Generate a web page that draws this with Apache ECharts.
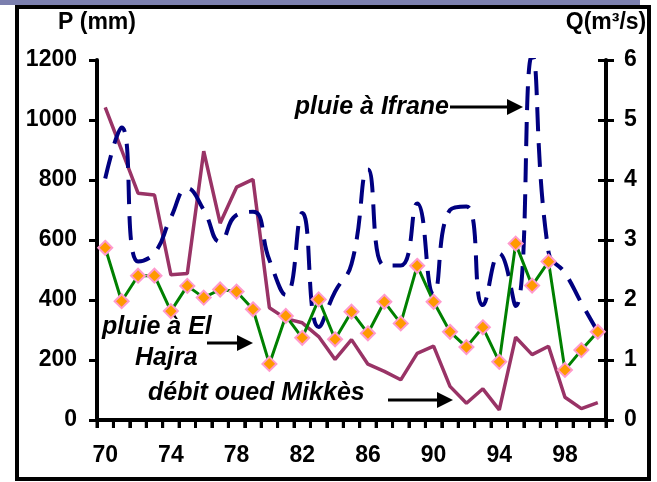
<!DOCTYPE html>
<html>
<head>
<meta charset="utf-8">
<script src="https://cdn.jsdelivr.net/npm/echarts@6/dist/echarts.min.js"></script>
<style>
  html, body { margin: 0; padding: 0; background: #fff; }
  #chart { width: 657px; height: 482px; }
</style>
</head>
<body>
<div id="chart"></div>
<script>
// years 1970 - 2000
var years = ['70','71','72','73','74','75','76','77','78','79','80','81','82','83','84','85',
  '86','87','88','89','90','91','92','93','94','95','96','97','98','99','00']
// pluie a Ifrane (mm)
var ifrane = [805, 975, 528, 556, 675, 772, 700, 594, 683, 694, 533, 417, 690, 310, 428, 520,
  835, 515, 515, 722, 420, 700, 712, 383, 555, 380, 1215, 560, 490, 390, 294]
// pluie a El Hajra (mm)
var elHajra = [574, 396, 481, 481, 363, 447, 408, 435, 428, 369, 187, 347, 274, 402, 269, 361,
  289, 394, 322, 514, 394, 294, 243, 309, 194, 588, 448, 528, 167, 233, 294]
// debit oued Mikkes (m3/s)
var mikkes = [5.21, 4.5, 3.78, 3.75, 2.42, 2.44, 4.48, 3.28, 3.88, 4.01, 1.87, 1.69, 1.62, 1.39, 1.01, 1.34,
  0.93, 0.81, 0.67, 1.11, 1.23, 0.56, 0.28, 0.52, 0.17, 1.38, 1.09, 1.23, 0.38, 0.19, 0.29]

var FONT = 'Liberation Sans, Arial, sans-serif'
var GRID = { left: 97, right: 51, top: 60, bottom: 62 }

function arrow(x1, x2, y) {
  return {
    type: 'group',
    children: [
      { type: 'line', shape: { x1: x1, y1: y, x2: x2 - 12, y2: y }, style: { stroke: '#000', lineWidth: 3 } },
      { type: 'polygon', shape: { points: [[x2 - 16, y - 8], [x2, y], [x2 - 16, y + 8]] }, style: { fill: '#000' } }
    ]
  }
}

function label(text, x, y, align) {
  return {
    type: 'text',
    x: x,
    y: y,
    style: {
      text: text,
      font: 'italic bold 25px ' + FONT,
      fill: '#000',
      align: align || 'left',
      verticalAlign: 'middle'
    }
  }
}

var chart = echarts.init(document.getElementById('chart'))
chart.setOption({
  animation: false,
  grid: GRID,
  xAxis: {
    type: 'category',
    data: years,
    boundaryGap: true,
    axisLine: { show: true, lineStyle: { color: '#000', width: 4 } },
    axisTick: { show: true, interval: 0, length: 8, lineStyle: { color: '#000', width: 3 } },
    axisLabel: { interval: 3, margin: 24, color: '#000', fontSize: 23, fontWeight: 'bold', fontFamily: FONT }
  },
  yAxis: [{
    type: 'value',
    min: 0,
    max: 1200,
    interval: 200,
    name: 'P (mm)',
    nameLocation: 'end',
    nameGap: 26,
    nameTextStyle: { color: '#000', fontSize: 23, fontWeight: 'bold', fontFamily: FONT },
    splitLine: { show: false },
    axisLine: { show: true, lineStyle: { color: '#000', width: 4 } },
    axisTick: { show: true, length: 8, lineStyle: { color: '#000', width: 3 } },
    axisLabel: { margin: 20, color: '#000', fontSize: 23, fontWeight: 'bold', fontFamily: FONT,
      formatter: function (v) { return String(v) } }
  }, {
    type: 'value',
    position: 'right',
    min: 0,
    max: 6,
    interval: 1,
    name: 'Q(m³/s)',
    nameLocation: 'end',
    nameGap: 26,
    nameTextStyle: { color: '#000', fontSize: 23, fontWeight: 'bold', fontFamily: FONT },
    splitLine: { show: false },
    axisLine: { show: true, lineStyle: { color: '#000', width: 4 } },
    axisTick: { show: true, length: 8, lineStyle: { color: '#000', width: 3 } },
    axisLabel: { margin: 18, color: '#000', fontSize: 23, fontWeight: 'bold', fontFamily: FONT }
  }, {
    // inner half of the cross ticks on the right axis
    type: 'value',
    position: 'right',
    min: 0,
    max: 6,
    interval: 1,
    splitLine: { show: false },
    axisLine: { show: false },
    axisTick: { show: true, inside: true, length: 8, lineStyle: { color: '#000', width: 3 } },
    axisLabel: { show: false }
  }],
  series: [{
    name: 'débit oued Mikkès',
    type: 'line',
    yAxisIndex: 1,
    data: mikkes,
    symbol: 'none',
    lineStyle: { color: '#993366', width: 3.5 }
  }, {
    name: 'pluie à Ifrane',
    type: 'line',
    data: ifrane,
    smooth: 0.5,
    symbol: 'none',
    lineStyle: { color: '#000080', width: 4, type: [24, 12] }
  }, {
    name: 'pluie à El Hajra',
    type: 'line',
    data: elHajra,
    symbol: 'diamond',
    symbolSize: 14,
    showAllSymbol: true,
    lineStyle: { color: '#008000', width: 3 },
    itemStyle: { color: '#FF9900', borderColor: '#FF99CC', borderWidth: 2 }
  }]
})

// year ticks at the category boundaries
var p0 = chart.convertToPixel({ gridIndex: 0 }, [0, 0])
var p1 = chart.convertToPixel({ gridIndex: 0 }, [1, 0])
var ok = p0 && p1 && isFinite(p0[0]) && isFinite(p1[0]) && isFinite(p0[1])
var band = ok ? p1[0] - p0[0] : (657 - GRID.left - GRID.right) / years.length
var cx0 = ok ? p0[0] : GRID.left + band / 2
var yZero = ok ? p0[1] : 482 - GRID.bottom
var ticks = []
for (var i = 0; i <= years.length; i++) {
  var tx = cx0 - band / 2 + i * band
  ticks.push({ type: 'line', z: 100, shape: { x1: tx, y1: yZero, x2: tx, y2: yZero + 8 }, style: { stroke: '#000', lineWidth: 3 } })
}

chart.setOption({
  graphic: [
    { type: 'rect', shape: { x: 0, y: 0, width: 640, height: 5 }, style: { fill: '#7b7fae' } },
    { type: 'rect', shape: { x: 17, y: 7, width: 632, height: 472 }, style: { fill: 'none', stroke: '#000', lineWidth: 4 } },
    label('pluie à Ifrane', 449, 107, 'right'),
    arrow(450, 523, 107),
    label('pluie à El', 102, 327),
    label('Hajra', 135, 358),
    arrow(207, 253, 343),
    label('débit oued Mikkès', 148, 393),
    arrow(388, 453, 400)
  ].concat(ticks)
})
</script>
</body>
</html>
